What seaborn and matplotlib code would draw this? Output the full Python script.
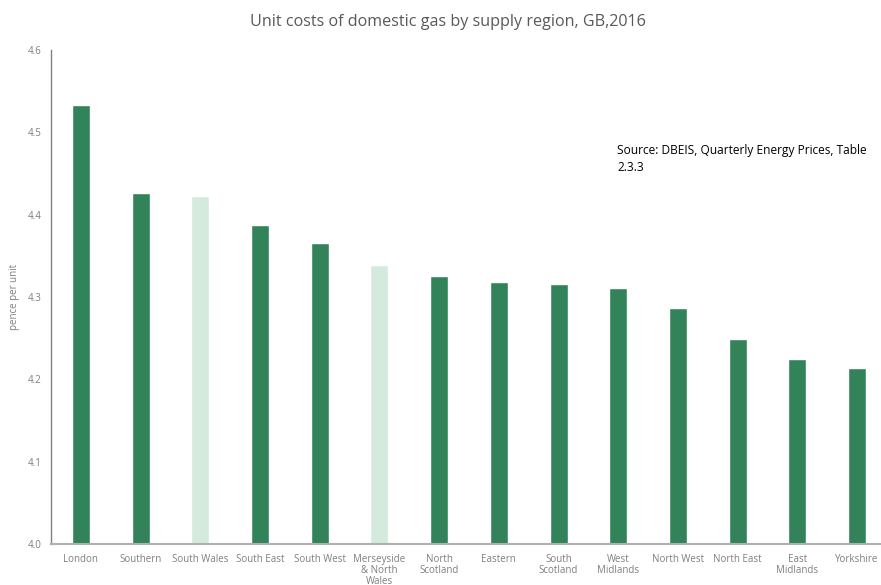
import matplotlib
matplotlib.use("Agg")
import matplotlib.pyplot as plt
import seaborn as sns
import pandas as pd

regions = ["London", "Southern", "South Wales", "South East", "South West",
           "Merseyside\n& North\nWales", "North\nScotland", "Eastern", "South\nScotland",
           "West\nMidlands", "North West", "North East", "East\nMidlands", "Yorkshire"]
costs = [4.533, 4.426, 4.423, 4.388, 4.366, 4.339, 4.326, 4.318, 4.316, 4.311,
         4.287, 4.249, 4.225, 4.214]
highlight = ["dark", "dark", "light", "dark", "dark", "light", "dark", "dark", "dark",
             "dark", "dark", "dark", "dark", "dark"]

df = pd.DataFrame({"region": regions, "cost": costs, "group": highlight})

sns.set_theme(style="white")
plt.rcParams["font.family"] = ["Open Sans", "DejaVu Sans"]

fig = plt.figure(figsize=(8.81, 5.85), dpi=100)
ax = fig.add_axes([51/881, 41/585, 1 - 51/881, (544 - 50)/585])

palette = {"dark": "#32835a", "light": "#d3eadd"}
sns.barplot(data=df, x="region", y="cost", hue="group", palette=palette,
            dodge=False, width=0.3, legend=False, ax=ax, saturation=1)

ax.set_ylim(4.0, 4.6)
ax.set_xlim(-0.5, 13.4)
ax.set_yticks([4.0, 4.1, 4.2, 4.3, 4.4, 4.5, 4.6])
ax.set_yticklabels(["4.0", "4.1", "4.2", "4.3", "4.4", "4.5", "4.6"])
ax.tick_params(axis="both", colors="#7f7f7f", labelsize=7, length=0, pad=7)
ax.set_xlabel("")
ax.set_ylabel("pence per unit", color="#7f7f7f", fontsize=7)
ax.yaxis.set_label_coords(-31/830, 0.5)
for s in ["top", "right"]:
    ax.spines[s].set_visible(False)
ax.spines["left"].set_color("#808080")
ax.spines["bottom"].set_color("#b0b0b0")
ax.spines["left"].set_linewidth(1.0)
ax.spines["bottom"].set_linewidth(1.5)
for lbl in ax.get_xticklabels():
    lbl.set_linespacing(1.0)

fig.text(0.508, 0.962, "Unit costs of domestic gas by supply region, GB,2016",
         ha="center", va="center", fontsize=11.6, color="#595959")
fig.text(617/881, 1 - 159/585, "Source: DBEIS, Quarterly Energy Prices, Table\n2.3.3",
         ha="left", va="center", fontsize=8.6, color="#000000", linespacing=1.45,
         multialignment="left")

fig.savefig("out.png", dpi=100)
